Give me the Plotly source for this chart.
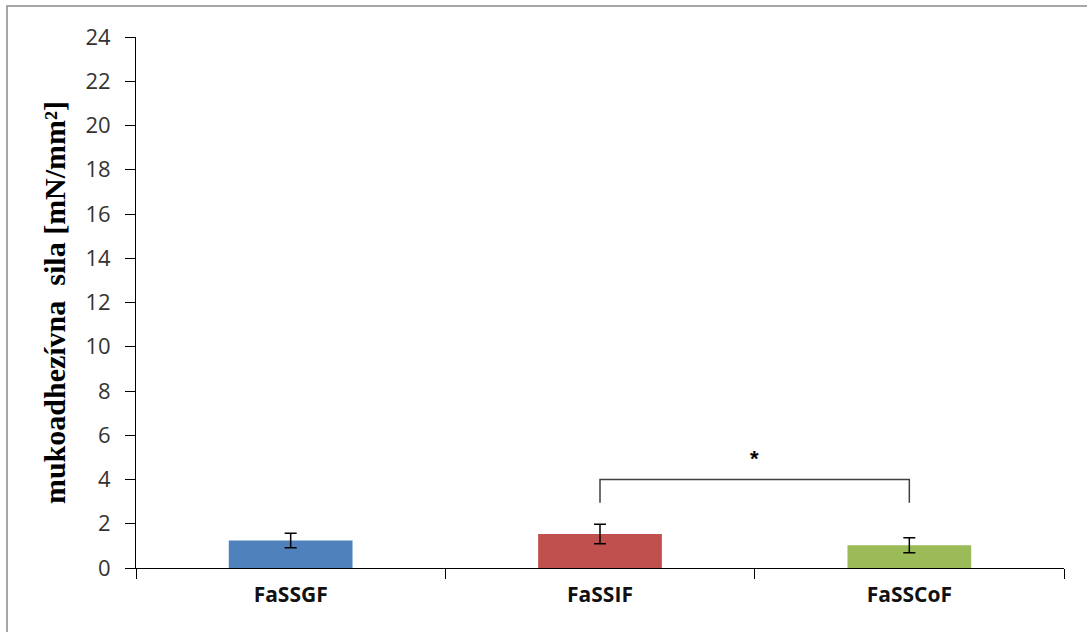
import plotly.graph_objects as go

categories = ["FaSSGF", "FaSSIF", "FaSSCoF"]
values = [1.24, 1.54, 1.03]
errors = [0.33, 0.44, 0.34]
colors = ["#4F81BD", "#C0504D", "#9BBB59"]

bracket_x = ["FaSSIF", "FaSSIF", "FaSSCoF", "FaSSCoF"]
bracket_y = [2.95, 4.0, 4.0, 2.95]
star_x = 1.5
star_y = 4.95

y_ticks = list(range(0, 25, 2))

fig = go.Figure()
fig.add_trace(go.Bar(
    x=categories, y=values,
    marker=dict(color=colors, line=dict(width=0)),
    error_y=dict(type="data", array=errors, color="#000000", thickness=1.5, width=6),
    showlegend=False,
))
fig.add_trace(go.Scatter(
    x=bracket_x, y=bracket_y, mode="lines",
    line=dict(color="#404040", width=1.5), showlegend=False, hoverinfo="skip",
))
fig.add_annotation(x=star_x, y=star_y, text="<b>*</b>", showarrow=False,
                   font=dict(size=22, color="#000000", family="Liberation Sans"))

W, H = 1087, 632
L, R, T, B = 136, 23, 37, 64
pw, ph = W - L - R, H - T - B
fig.add_shape(type="rect", xref="paper", yref="paper",
              x0=(7 - L) / pw, x1=(1100 - L) / pw,
              y0=-(645 - (T + ph)) / ph, y1=(T + ph - 6) / ph,
              line=dict(color="#8a8a8a", width=1.5), fillcolor="rgba(0,0,0,0)", layer="below")

fig.update_layout(
    width=W, height=H,
    margin=dict(l=L, r=R, t=T, b=B, autoexpand=False),
    paper_bgcolor="white", plot_bgcolor="white",
    bargap=0.6,
    font=dict(family="Open Sans", color="#222222"),
    xaxis=dict(
        type="category", showline=True, linecolor="#000000", linewidth=1,
        ticks="outside", tickson="boundaries", ticklen=10, tickcolor="#000000",
        tickfont=dict(size=21, family="Open Sans", color="#111111", weight="bold"),
        ticklabelstandoff=8,
        showgrid=False, zeroline=False,
    ),
    yaxis=dict(
        range=[0, 24], tickvals=y_ticks, showline=True, linecolor="#000000", linewidth=1,
        ticks="outside", ticklen=10, tickcolor="#000000",
        tickfont=dict(size=22, family="Open Sans", color="#333333"),
        ticklabelstandoff=10,
        showgrid=False, zeroline=False,
        title=dict(text="<b>mukoadhezívna  sila [mN/mm²]</b>",
                   font=dict(size=30, family="Liberation Serif", color="#000000"),
                   standoff=10),
    ),
)

fig.write_html("out.html", config={"displayModeBar": False},
               post_script="document.body.style.margin='0';document.body.style.padding='0';")
